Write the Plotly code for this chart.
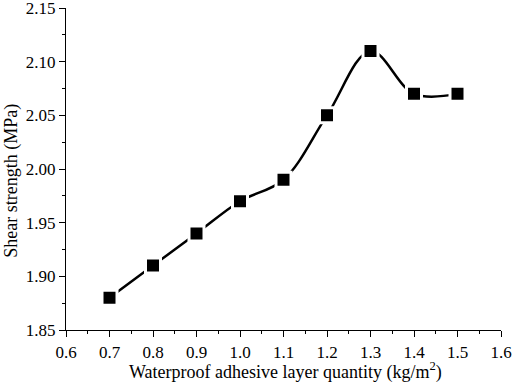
import plotly.graph_objects as go

x_vals = [0.7, 0.8, 0.9, 1.0, 1.1, 1.2, 1.3, 1.4, 1.5]
y_vals = [1.88, 1.91, 1.94, 1.97, 1.99, 2.05, 2.11, 2.07, 2.07]
x_ticks = [0.6, 0.7, 0.8, 0.9, 1.0, 1.1, 1.2, 1.3, 1.4, 1.5, 1.6]
y_ticks = [1.85, 1.90, 1.95, 2.00, 2.05, 2.10, 2.15]
x_title = "Waterproof adhesive layer quantity (kg/m<sup>2</sup>)"
y_title = "Shear strength (MPa)"

fig = go.Figure()
fig.add_trace(go.Scatter(
    x=x_vals, y=y_vals, mode="lines+markers",
    line=dict(shape="spline", smoothing=1.0, color="black", width=2.5),
    marker=dict(symbol="square", size=15, color="black",
                line=dict(color="white", width=3)),
    showlegend=False, cliponaxis=False,
))

font = dict(family="Liberation Serif, Times New Roman, serif", color="black")
fig.update_layout(
    width=512, height=386,
    margin=dict(l=66, r=11, t=8, b=56),
    plot_bgcolor="white", paper_bgcolor="white",
    font=dict(size=17, **font),
)
fig.add_annotation(text=x_title, xref="paper", yref="paper", x=0.505, y=-0.127,
                   xanchor="center", yanchor="middle", showarrow=False,
                   font=dict(size=18))
fig.add_annotation(text=y_title, xref="paper", yref="paper", x=-0.126, y=0.464,
                   xanchor="center", yanchor="middle", showarrow=False, textangle=-90,
                   font=dict(size=18))
fig.update_xaxes(
    range=[0.6, 1.6], tickvals=x_ticks, ticktext=[f"{v:.1f}" for v in x_ticks],
    showline=True, linecolor="black", linewidth=1.2, mirror=False,
    ticks="outside", ticklen=6, tickwidth=1.2, tickcolor="black",
    minor=dict(dtick=0.05, ticks="outside", ticklen=3, tickwidth=1.2, tickcolor="black", showgrid=False),
    showgrid=False, zeroline=False,
    tickfont=dict(size=17), automargin=False, ticklabeloverflow="allow",
)
fig.update_yaxes(
    range=[1.85, 2.15], tickvals=y_ticks, ticktext=[f"{v:.2f}" for v in y_ticks],
    showline=True, linecolor="black", linewidth=1.2, mirror=False,
    ticks="outside", ticklen=6, tickwidth=1.2, tickcolor="black",
    minor=dict(dtick=0.025, ticks="outside", ticklen=3, tickwidth=1.2, tickcolor="black", showgrid=False),
    showgrid=False, zeroline=False,
    tickfont=dict(size=17), automargin=False, ticklabeloverflow="allow",
)
fig.write_html("out.html", post_script="document.body.style.margin='0';",
               config={"displayModeBar": False})
